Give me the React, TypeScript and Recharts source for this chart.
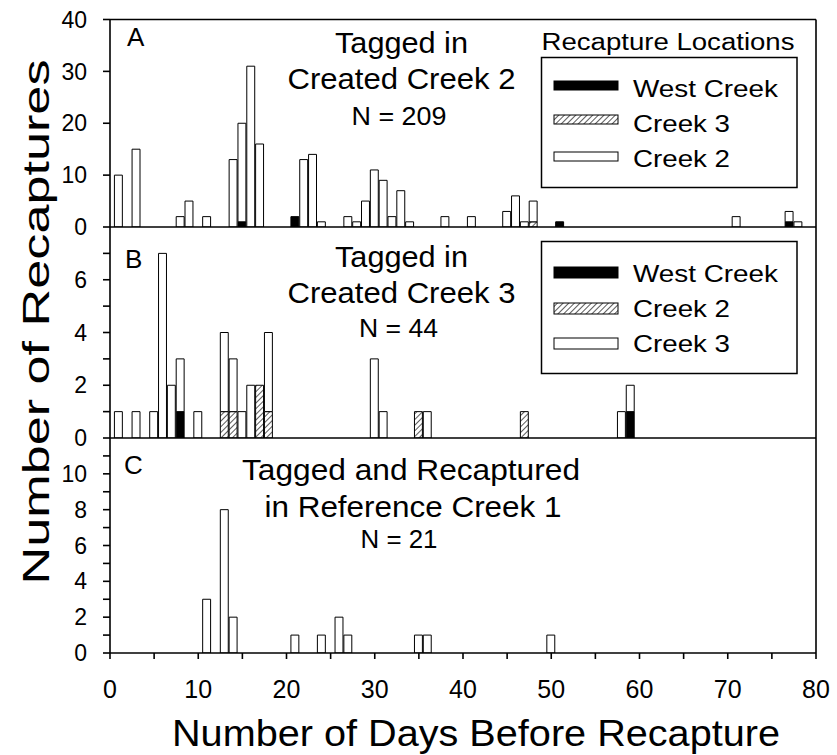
import React from 'react';
import { BarChart, Bar, XAxis, YAxis, ReferenceLine } from 'recharts';

const FONT = '"Liberation Sans", Arial, Helvetica, sans-serif';

// shared x axis
const xTicks = [0, 5, 10, 15, 20, 25, 30, 35, 40, 45, 50, 55, 60, 65, 70, 75, 80];
const xLabelTicks = [0, 10, 20, 30, 40, 50, 60, 70, 80];

// Panel A: tagged in Created Creek 2
const aDays = [1, 3, 8, 9, 11, 14, 15, 16, 17, 21, 22, 23, 24, 27, 28, 29, 30, 31, 32, 33, 34, 38, 41, 45, 46, 47, 48, 51, 71, 77, 78];
const aWest = [0, 0, 0, 0, 0, 0, 1, 0, 0, 2, 0, 0, 0, 0, 0, 0, 0, 0, 0, 0, 0, 0, 0, 0, 0, 0, 0, 1, 0, 1, 0];
const aCreek3 = [0, 0, 0, 0, 0, 0, 0, 0, 0, 0, 0, 0, 0, 0, 0, 0, 0, 0, 0, 0, 0, 0, 0, 0, 0, 0, 1, 0, 0, 0, 0];
const aCreek2 = [10, 15, 2, 5, 2, 13, 19, 31, 16, 0, 13, 14, 1, 2, 1, 5, 11, 9, 2, 7, 1, 2, 2, 3, 6, 1, 4, 0, 2, 2, 1];
const aYTicks = [0, 10, 20, 30, 40];

// Panel B: tagged in Created Creek 3
const bDays = [1, 3, 5, 6, 7, 8, 10, 13, 14, 15, 16, 17, 18, 30, 31, 35, 36, 47, 58, 59];
const bWest = [0, 0, 0, 0, 0, 1, 0, 0, 0, 0, 0, 0, 0, 0, 0, 0, 0, 0, 0, 1];
const bCreek2 = [0, 0, 0, 0, 0, 0, 0, 1, 1, 0, 0, 2, 1, 0, 0, 1, 0, 1, 0, 0];
const bCreek3 = [1, 1, 1, 7, 2, 2, 1, 3, 2, 1, 2, 0, 3, 3, 1, 0, 1, 0, 1, 1];
const bYTicks = [0, 1, 2, 3, 4, 5, 6, 7];

// Panel C: tagged and recaptured in Reference Creek 1
const cDays = [11, 13, 14, 21, 24, 26, 27, 35, 36, 50];
const cCreek1 = [3, 8, 2, 1, 1, 2, 1, 1, 1, 1];
const cYTicks = [0, 1, 2, 3, 4, 5, 6, 7, 8, 9, 10, 11];

const buildRows = (days: number[], cols: Record<string, number[]>) =>
  days.map((d, i) => {
    const r: Record<string, number> = { day: d };
    Object.keys(cols).forEach((k) => (r[k] = cols[k][i]));
    return r;
  });

const aData = buildRows(aDays, { west: aWest, hatch: aCreek3, white: aCreek2 });
const bData = buildRows(bDays, { west: bWest, hatch: bCreek2, white: bCreek3 });
const cData = buildRows(cDays, { white: cCreek1 });

const BAR_W = 706 / 80;

const evenLabel = (v: number) => (v % 2 === 0 ? String(v) : '');

type PanelProps = {
  top: number;
  height: number;
  mt: number;
  mb: number;
  xh: number;
  data: Record<string, number>[];
  yMax: number;
  yTicks: number[];
  yFmt: (v: number) => string;
  showX: boolean;
  stacked: boolean;
};

function Panel({ top, height, mt, mb, xh, data, yMax, yTicks, yFmt, showX, stacked }: PanelProps) {
  return (
    <div style={{ position: 'absolute', left: 0, top }}>
      <BarChart
        width={837}
        height={height}
        data={data}
        margin={{ top: mt, right: 21, bottom: mb, left: 50 }}
        barCategoryGap={0}
        barGap={0}
      >
        <XAxis
          dataKey="day"
          type="number"
          domain={[0, 80]}
          ticks={xTicks}
          interval={0}
          allowDataOverflow
          height={xh}
          tickSize={6}
          tickMargin={21}
          stroke="#000"
          axisLine={{ stroke: '#000', strokeWidth: 1.6 }}
          tickLine={{ stroke: '#000', strokeWidth: 1.6 }}
          tick={{ fontSize: 25, fill: '#000', fontFamily: FONT }}
          tickFormatter={(v: number) => (showX && xLabelTicks.includes(v) ? String(v) : '')}
        />
        <YAxis
          type="number"
          domain={[0, yMax]}
          ticks={yTicks}
          interval={0}
          allowDataOverflow
          width={60}
          tickSize={7}
          tickMargin={16}
          stroke="#000"
          axisLine={{ stroke: '#000', strokeWidth: 1.6 }}
          tickLine={{ stroke: '#000', strokeWidth: 1.6 }}
          tick={{ fontSize: 23, fill: '#000', fontFamily: FONT }}
          tickFormatter={yFmt}
        />
        {stacked && (
          <Bar dataKey="west" stackId="s" fill="#000" stroke="#000" strokeWidth={1} barSize={BAR_W} isAnimationActive={false} />
        )}
        {stacked && (
          <Bar dataKey="hatch" stackId="s" fill="url(#hatchPat)" stroke="#000" strokeWidth={1} barSize={BAR_W} isAnimationActive={false} />
        )}
        <Bar dataKey="white" stackId="s" fill="#fff" stroke="#000" strokeWidth={1} barSize={BAR_W} isAnimationActive={false} />
        <ReferenceLine x={80} stroke="#000" strokeWidth={1.6} ifOverflow="visible" />
        <ReferenceLine y={yMax} stroke="#000" strokeWidth={1.6} ifOverflow="visible" />
      </BarChart>
    </div>
  );
}

type TxtProps = { x: number; y: number; size: number; len?: number; anchor?: string; children: React.ReactNode; transform?: string };
const Txt = ({ x, y, size, len, anchor = 'middle', children, transform }: TxtProps) => (
  <text
    x={x}
    y={y}
    fontSize={size}
    textAnchor={anchor as any}
    textLength={len}
    lengthAdjust={len ? 'spacingAndGlyphs' : undefined}
    fontFamily={FONT}
    fill="#000"
    transform={transform}
  >
    {children}
  </text>
);

type LegendProps = { boxTop: number; boxBottom: number; rows: { label: string; kind: string; sTop: number; sH: number; base: number; len: number }[] };
const LegendBox = ({ boxTop, boxBottom, rows }: LegendProps) => (
  <g>
    <rect x={541.5} y={boxTop} width={255.5} height={boxBottom - boxTop} fill="none" stroke="#000" strokeWidth={1.5} />
    {rows.map((r) => (
      <g key={r.label}>
        <rect
          x={554}
          y={r.sTop}
          width={64}
          height={r.sH}
          fill={r.kind === 'black' ? '#000' : r.kind === 'hatch' ? 'url(#hatchPat)' : '#fff'}
          stroke="#000"
          strokeWidth={1}
        />
        <Txt x={633} y={r.base} size={24} len={r.len} anchor="start">
          {r.label}
        </Txt>
      </g>
    ))}
  </g>
);

export default function App() {
  return (
    <div style={{ position: 'absolute', left: 0, top: 0, width: 837, height: 755, background: '#fff', overflow: 'hidden' }}>
      <Panel top={0} height={240} mt={19.5} mb={13} xh={0} data={aData} yMax={40} yTicks={aYTicks} yFmt={(v) => String(v)} showX={false} stacked />
      <Panel top={200} height={250} mt={27} mb={12} xh={0} data={bData} yMax={8} yTicks={bYTicks} yFmt={(v) => (v < 8 ? evenLabel(v) : '')} showX={false} stacked />
      <Panel top={420} height={335} mt={18} mb={42} xh={60} data={cData} yMax={12} yTicks={cYTicks} yFmt={(v) => (v < 12 ? evenLabel(v) : '')} showX stacked={false} />
      <svg width={837} height={755} style={{ position: 'absolute', left: 0, top: 0, pointerEvents: 'none' }}>
        <defs>
          <pattern id="hatchPat" patternUnits="userSpaceOnUse" width={4} height={4} patternTransform="rotate(45)">
            <rect x={0} y={0} width={4} height={4} fill="#fff" />
            <line x1={0} y1={0} x2={0} y2={4} stroke="#000" strokeWidth={1.3} />
          </pattern>
        </defs>

        {/* Panel letters */}
        <Txt x={127} y={46} size={26} anchor="start">A</Txt>
        <Txt x={125} y={268} size={26} anchor="start">B</Txt>
        <Txt x={124} y={474} size={26} anchor="start">C</Txt>

        {/* Panel A title */}
        <Txt x={401.5} y={53} size={29} len={133}>Tagged in</Txt>
        <Txt x={401.5} y={89} size={29} len={228}>Created Creek 2</Txt>
        <Txt x={399} y={125} size={25} len={95}>N = 209</Txt>

        {/* Panel B title */}
        <Txt x={401.5} y={267} size={29} len={133}>Tagged in</Txt>
        <Txt x={401.5} y={303} size={29} len={228}>Created Creek 3</Txt>
        <Txt x={398.5} y={337} size={25} len={79}>N = 44</Txt>

        {/* Panel C title */}
        <Txt x={411} y={480} size={29} len={338}>Tagged and Recaptured</Txt>
        <Txt x={413} y={517} size={29} len={297}>in Reference Creek 1</Txt>
        <Txt x={399} y={548} size={25} len={77}>N = 21</Txt>

        {/* Legend A */}
        <Txt x={668} y={50} size={23} len={253}>Recapture Locations</Txt>
        <LegendBox
          boxTop={57.5}
          boxBottom={187.5}
          rows={[
            { label: 'West Creek', kind: 'black', sTop: 81, sH: 9, base: 97, len: 145 },
            { label: 'Creek 3', kind: 'hatch', sTop: 115, sH: 9, base: 132, len: 97 },
            { label: 'Creek 2', kind: 'white', sTop: 152, sH: 9, base: 167, len: 97 },
          ]}
        />

        {/* Legend B */}
        <LegendBox
          boxTop={241.5}
          boxBottom={373.5}
          rows={[
            { label: 'West Creek', kind: 'black', sTop: 267, sH: 11, base: 282, len: 145 },
            { label: 'Creek 2', kind: 'hatch', sTop: 303, sH: 11, base: 317, len: 97 },
            { label: 'Creek 3', kind: 'white', sTop: 338, sH: 11, base: 352, len: 97 },
          ]}
        />

        {/* Axis titles */}
        <Txt x={476} y={746} size={36} len={608}>Number of Days Before Recapture</Txt>
        <Txt x={49} y={322} size={37} len={525} transform="rotate(-90 49 322)">Number of Recaptures</Txt>
      </svg>
    </div>
  );
}
